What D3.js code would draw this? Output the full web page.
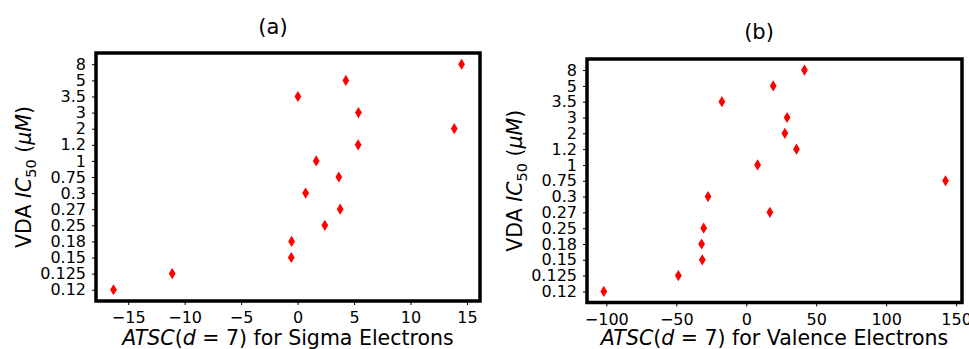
<!DOCTYPE html>
<html>
<head>
<meta charset="utf-8">
<script src="https://cdn.jsdelivr.net/npm/d3@7"></script>
<style>
  body { margin: 0; background: #fff; }
  svg { font-family: "DejaVu Sans", sans-serif; }
</style>
</head>
<body>
<svg id="chart" width="969" height="349"></svg>
<script>
// y categories (IC50 values, treated as ordered labels)
const ic50Labels = ['0.12', '0.125', '0.15', '0.18', '0.25', '0.27', '0.3', '0.75', '1', '1.2', '2', '3', '3.5', '5', '8'];

// ATSC(d=7) sigma electrons, one per label above
const sigmaX = [-16.3, -11.1, -0.56, -0.53, 2.41, 3.77, 0.71, 3.65, 1.65, 5.36, 13.87, 5.39, 0.03, 4.27, 14.52];
// ATSC(d=7) valence electrons
const valenceX = [-101.8, -48.5, -31.4, -31.9, -30.4, 16.9, -27.3, 142.4, 8.1, 35.9, 27.6, 29.2, -17.4, 19.3, 41.6];

const sigmaTicks = [-15, -10, -5, 0, 5, 10, 15];
const valenceTicks = [-100, -50, 0, 50, 100, 150];

const svg = d3.select('#chart');

const panels = [
  {
    title: '(a)', titleX: 273, titleY: 34,
    xs: sigmaX, ticks: sigmaTicks, domain: [-17.85, 16.15],
    left: 96, right: 480, top: 53, bottom: 301,
    xName: 'for Sigma Electrons', yLabelX: 24
  },
  {
    title: '(b)', titleX: 759, titleY: 39,
    xs: valenceX, ticks: valenceTicks, domain: [-113.8, 154.2],
    left: 587, right: 962, top: 59, bottom: 302.5,
    xName: 'for Valence Electrons', yLabelX: 515
  }
];

const diamond = 'M0,-5.6L3.4,0L0,5.6L-3.4,0Z';

panels.forEach(p => {
  const x = d3.scaleLinear().domain(p.domain).range([p.left, p.right]);
  const y = d3.scalePoint().domain(ic50Labels).range([p.bottom, p.top]).padding(0.7);

  const g = svg.append('g');

  // points
  g.selectAll('path.pt')
    .data(ic50Labels.map((lab, i) => ({ lab, v: p.xs[i] })))
    .join('path')
    .attr('class', 'pt')
    .attr('d', diamond)
    .attr('transform', d => `translate(${x(d.v)},${y(d.lab)})`)
    .attr('fill', '#ff0000');

  // axes
  const xAxis = g.append('g')
    .attr('transform', `translate(0,${p.bottom})`)
    .call(d3.axisBottom(x).tickValues(p.ticks).tickSize(4).tickPadding(7)
      .tickFormat(d => d < 0 ? '\u2212' + Math.abs(d) : d));
  const yAxis = g.append('g')
    .attr('transform', `translate(${p.left},0)`)
    .call(d3.axisLeft(y).tickSize(4).tickPadding(6));

  [xAxis, yAxis].forEach(a => {
    a.select('.domain').remove();
    a.selectAll('line').attr('stroke', '#000').attr('stroke-width', 1);
    a.selectAll('text').attr('font-size', 16).attr('fill', '#000')
      .attr('font-family', '"DejaVu Sans", sans-serif');
  });

  // frame
  g.append('rect')
    .attr('x', p.left).attr('y', p.top)
    .attr('width', p.right - p.left).attr('height', p.bottom - p.top)
    .attr('fill', 'none').attr('stroke', '#000').attr('stroke-width', 3.5);

  // title
  g.append('text')
    .attr('x', p.titleX).attr('y', p.titleY)
    .attr('text-anchor', 'middle').attr('font-size', 21)
    .text(p.title);

  // x label
  const xl = g.append('text')
    .attr('x', (p.left + p.right) / 2).attr('y', 345)
    .attr('text-anchor', 'middle').attr('font-size', 20.5);
  xl.append('tspan').attr('font-style', 'italic').text('ATSC');
  xl.append('tspan').text('(');
  xl.append('tspan').attr('font-style', 'italic').text('d');
  xl.append('tspan').text(' = 7) ' + p.xName);

  // y label
  const yl = g.append('text')
    .attr('transform', `translate(${p.yLabelX},${(p.top + p.bottom) / 2}) rotate(-90)`)
    .attr('dy', '0.35em')
    .attr('text-anchor', 'middle').attr('font-size', 20.5);
  yl.append('tspan').text('VDA ');
  yl.append('tspan').attr('font-style', 'italic').text('IC');
  yl.append('tspan').attr('font-size', 14.5).attr('dy', '0.3em').text('50');
  yl.append('tspan').attr('dy', '-0.21em').text(' (');
  yl.append('tspan').attr('font-style', 'italic').text('\u03bcM');
  yl.append('tspan').text(')');
});
</script>
</body>
</html>
